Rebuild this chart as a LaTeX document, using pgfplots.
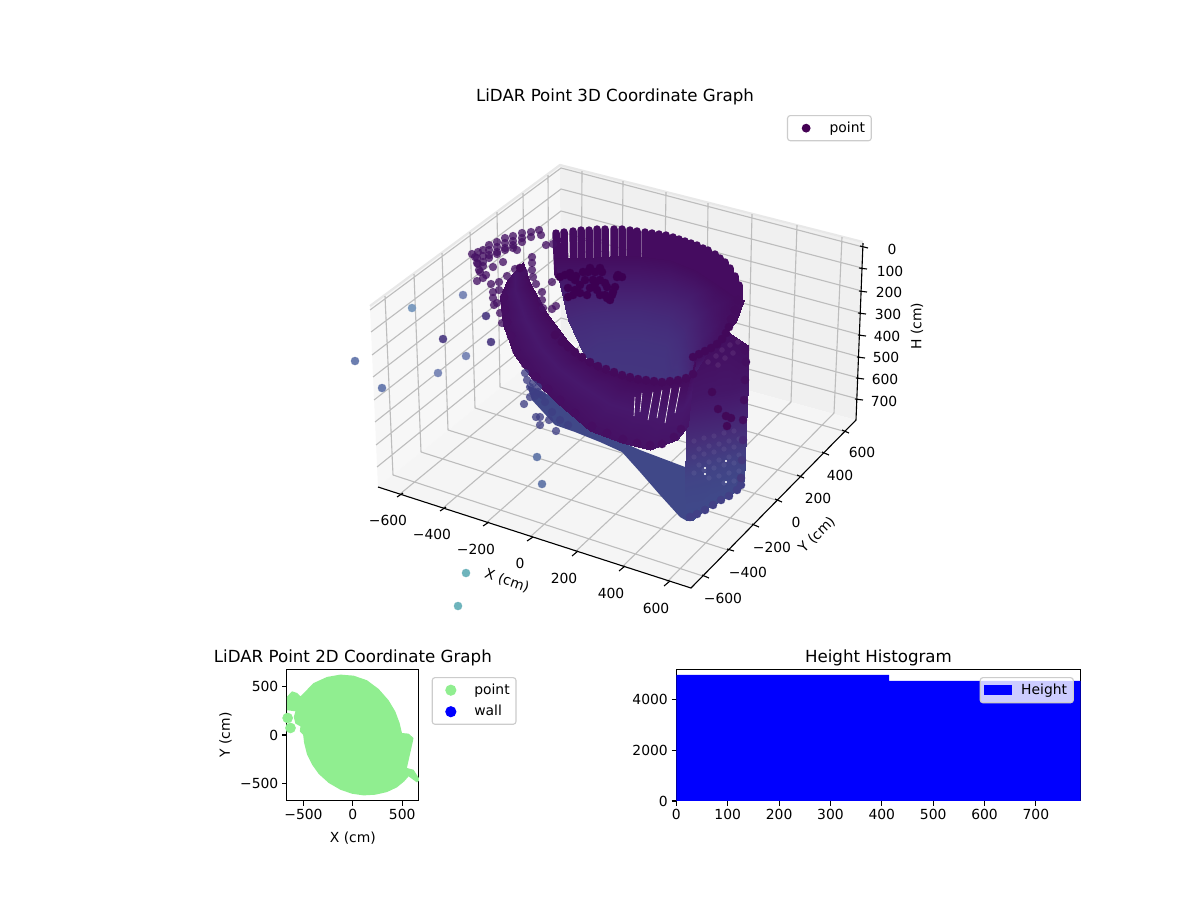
\documentclass[border=0pt]{standalone}
\usepackage{fontspec}
\setmainfont{DejaVu Sans}
\usepackage{pgfplots}
\pgfplotsset{compat=1.18}
\newcommand{\ft}{\fontsize{10bp}{12bp}\selectfont}
\newcommand{\fT}{\fontsize{12bp}{14.4bp}\selectfont}
\definecolor{gridc}{HTML}{BDBDBD}
\definecolor{legc}{HTML}{CCCCCC}
\definecolor{lgreen}{RGB}{144,238,144}
\definecolor{vdark}{RGB}{68,1,84}
\pgfplotsset{
  pts/.style={only marks, mark=*, mark size=3bp, forget plot, color={#1},
     mark options={solid, draw={#1}, fill={#1}, line width=0.05bp}},
  ptsa/.style={only marks, mark=*, mark size=3bp, forget plot, color={#1},
     mark options={solid, draw={#1}, fill={#1}, line width=0.05bp, fill opacity=0.78, draw opacity=0}},
  fillp/.style={draw=none, fill={#1}, forget plot},
  lin/.style={color={#1}, forget plot, unbounded coords=jump, mark=none},
  legmark/.style={legend image code/.code={\path (0bp,0bp) (20bp,0bp); \draw[##1] plot coordinates {(10bp,0bp)};}},
  legbox/.style={legend cell align=left,
     legend style={font=\ft, draw=legc, rounded corners=2bp, line width=0.8bp,
       inner xsep=3bp, inner ysep=3bp, nodes={inner sep=1.5bp},
       /tikz/row sep=3.4bp, /tikz/every odd column/.append style={column sep=5bp}}},
  twod/.style={scale only axis, tick align=outside, major tick length=3.5bp,
     tick style={black, line width=0.8bp}, axis line style={line width=0.7bp},
     xtick pos=bottom, ytick pos=left,
     tick label style={font=\ft}, label style={font=\ft},
     title style={font=\fT, yshift=-7bp},
     every tick label/.append style={inner sep=2.5bp},
     xlabel style={yshift=-2.5bp}, ylabel style={yshift=0bp}, legbox},
}
\begin{document}
\begin{tikzpicture}[x=1bp,y=1bp]
\useasboundingbox (0,0) rectangle (864bp,648bp);
\fill[white] (0,0) rectangle (864bp,648bp);
\begin{axis}[at={(0,0)}, anchor=south west, scale only axis, width=864bp, height=648bp,
  xmin=0, xmax=1200, ymin=0, ymax=900, y dir=reverse, axis lines=none, clip=false,
  legbox, legmark,
  legend style={at={(0.6558,0.8722)}, anchor=north west}]
% panes
\addplot[fillp={black!3}] coordinates {(370,307)(560,166)(561,339)(378,487)} --cycle;
\addplot[fillp={black!6}] coordinates {(560,166)(863,243)(856,420)(561,339)} --cycle;
\addplot[fillp={black!4}] coordinates {(378,487)(691,588)(856,420)(561,339)} --cycle;
\addplot[lin={black!9}, line width=1.6bp] coordinates {(370,306)(560,165)(863,242)};
% grid
\addplot[lin=gridc, line width=0.8bp] coordinates {
(385,296)(393,475)(nan,nan)(414,274)(421,452)(nan,nan)(442,253)(448,430)(nan,nan)
(470,232)(475,408)(nan,nan)(497,212)(500,387)(nan,nan)(523,193)(525,367)(nan,nan)(548,175)(549,348)(nan,nan)
(582,171)(581,345)(nan,nan)(623,181)(621,356)(nan,nan)(666,192)(663,367)(nan,nan)(708,203)(706,379)(nan,nan)
(752,214)(748,390)(nan,nan)(797,225)(791,402)(nan,nan)(842,237)(834,413)(nan,nan)
(400,494)(581,345)(nan,nan)(443,508)(621,356)(nan,nan)(486,523)(663,367)(nan,nan)(530,537)(706,379)(nan,nan)
(575,552)(748,390)(nan,nan)(622,567)(791,402)(nan,nan)(667,582)(834,413)(nan,nan)
(393,475)(703,576)(nan,nan)(421,452)(728,550)(nan,nan)(448,430)(753,525)(nan,nan)(475,408)(776,500)(nan,nan)
(500,387)(798,476)(nan,nan)(525,367)(823,453)(nan,nan)(549,348)(843,431)(nan,nan)
(370,310)(561,168)(863,247)(nan,nan)(371,332)(561,189)(862,268)(nan,nan)(372,355)(561,211)(862,291)(nan,nan)
(373,377)(561,232)(861,313)(nan,nan)(374,400)(561,254)(861,335)(nan,nan)(375,422)(561,275)(860,357)(nan,nan)
(376,445)(561,297)(859,378)(nan,nan)(377,467)(561,318)(858,399)};
% axis lines and ticks
\addplot[lin=black, line width=0.8bp] coordinates {(378,487)(691,588)(856,420)(863,243)};
\addplot[lin=black, line width=0.8bp] coordinates {
(397,497)(403,493)(nan,nan)(440,511)(446,507)(nan,nan)(483,526)(489,522)(nan,nan)(527,541)(533,537)(nan,nan)
(572,556)(578,551)(nan,nan)(619,571)(625,566)(nan,nan)(664,586)(670,581)(nan,nan)
(702,575)(709,578)(nan,nan)(727,549)(734,551)(nan,nan)(752,524)(759,527)(nan,nan)(775,499)(782,502)(nan,nan)
(797,475)(804,478)(nan,nan)(822,452)(829,455)(nan,nan)(842,430)(849,433)(nan,nan)
(860,246)(868,248)(nan,nan)(859,268)(867,269)(nan,nan)(859,291)(867,292)(nan,nan)(858,313)(866,314)(nan,nan)
(858,335)(866,336)(nan,nan)(857,357)(865,358)(nan,nan)(856,378)(864,379)(nan,nan)(855,399)(863,400)};
% outliers, far
\addplot[pts={rgb,255:red,108;green,126;blue,176}] coordinates {(355,361)(382,388)};
\addplot[pts={rgb,255:red,125;green,156;blue,192}] coordinates {(412,308)};
\addplot[pts={rgb,255:red,125;green,138;blue,184}] coordinates {(463,295)(466,356)(438,373)};
\addplot[pts={rgb,255:red,88;green,72;blue,138}] coordinates {(443,339)(491,342)(486,316)};
\addplot[pts={rgb,255:red,105;green,125;blue,172}] coordinates {(537,457)(542,484)};
\addplot[pts={rgb,255:red,110;green,180;blue,188}] coordinates {(466,573)(458,606)};
% ring of points behind the crescent
\addplot[ptsa={rgb,255:red,70;green,18;blue,100}] coordinates {
(539,230)(541,235)(531,232)(531,237)(522,233)(522,238)(522,242)(513,236)(513,241)(513,245)(513,248)
(505,238)(505,243)(505,248)(505,250)(497,242)(497,247)(497,252)(497,254)(489,245)(489,250)(489,255)(489,258)
(483,250)(483,256)(483,262)(483,266)(478,252)(477,258)(478,264)(479,270)(472,254)(475,257)(477,263)(480,272)
(483,278)(477,281)(486,275)(493,267)(503,262)(517,250)(546,245)(553,244)(491,284)(552,282)
(532,257)(532,263)(532,270)(533,277)(536,284)(515,269)(507,276)(499,282)(499,290)(524,272)
(493,292)(493,298)(494,305)(500,313)(502,323)(542,292)(542,300)(543,308)(552,309)(556,306)(497,303)};
\addplot[ptsa={rgb,255:red,62;green,62;blue,132}] coordinates {
(525,373)(527,380)(530,387)(533,383)(538,387)(533,391)(538,392)(535,396)(542,395)(524,404)(536,417)(540,417)(540,425)(556,431)(530,397)(545,402)(552,412)(560,420)(568,425)(549,420)};
% ramp
\addplot[fillp={rgb,255:red,64;green,72;blue,136}] coordinates {(527,385)(532,400)(555,425)(575,432)(600,442)(622,452)(640,472)(660,495)(680,517)(687,521)(693,520)(693,470)(685,467)(640,450)(622,442)(560,400)} --cycle;
% right block
\addplot[patch, patch type=rectangle, mesh input=lattice, mesh/rows=5, mesh/cols=5, shader=interp, forget plot, point meta=explicit, point meta min=0, point meta max=1,
  colormap={blk}{rgb255=(68,14,96) rgb255=(70,28,110) rgb255=(70,48,122) rgb255=(66,64,132) rgb255=(63,74,138)}] coordinates {
(688,360)[0] (700,352)[0] (715,345)[0] (728,332)[0] (748,345)[0]
(687,400)[.15] (700,395)[.15] (715,392)[.15] (730,390)[.15] (748,385)[.15]
(686,440)[.45] (700,437)[.45] (715,434)[.45] (730,431)[.45] (746,428)[.45]
(685,480)[.85] (700,476)[.85] (715,472)[.85] (730,468)[.85] (745,465)[.85]
(686,520)[1] (693,520)[1] (705,510)[1] (725,498)[1] (743,487)[1]};
\addplot[only marks, mark=*, mark size=1.9bp, forget plot, mark options={solid, draw=white, draw opacity=0, fill=white, fill opacity=0.06}] coordinates {
(694,441)(704,438)(714,436)(724,433)(734,431)(699,449)(709,446)(719,444)(729,441)(739,439)
(694,457)(704,454)(714,452)(724,449)(734,447)(699,465)(709,462)(719,460)(729,457)(739,455)
(694,473)(704,470)(714,468)(724,465)(734,463)(709,478)(719,476)(729,473)(739,471)(724,483)(734,481)};
\addplot[pts={rgb,255:red,66;green,64;blue,134}] coordinates {(690,517)(697,514)(705,510)(713,505)(721,500)(729,496)(737,490)(741,485)};
\addplot[pts={rgb,255:red,70;green,40;blue,118}] coordinates {(743,440)};
\addplot[pts={rgb,255:red,68;green,56;blue,126}] coordinates {(742,460)(741,478)};
\addplot[only marks, mark=*, mark size=0.5bp, forget plot, mark options={solid, draw=white, fill=white}] coordinates {(705,468)(705,474)(726,461)(726,482)};
\addplot[pts={rgb,255:red,68;green,14;blue,96}] coordinates {(745,350)(746,362)(745,380)(744,400)(743,420)};
\addplot[only marks, mark=*, mark size=2bp, forget plot, mark options={solid, draw=white, draw opacity=0, fill=white, fill opacity=0.07}] coordinates {(722,350)(730,345)(738,342)(716,356)(725,358)(733,353)(708,362)(718,365)};
% bowl: columns then a smooth surface
\addplot[lin={rgb,255:red,69;green,12;blue,96}, line width=5.4bp, line cap=round] coordinates {
(556,233)(558,275)(nan,nan)(564,232)(565,275)(nan,nan)(573,231)(574,275)(nan,nan)(581,230)(582,275)(nan,nan)(589,230)(590,275)(nan,nan)
(597,229)(598,275)(nan,nan)(605,229)(606,275)(nan,nan)(614,229)(614,275)(nan,nan)(622,229)(622,275)(nan,nan)(630,230)(630,275)(nan,nan)
(637,231)(637,275)(nan,nan)(645,232)(645,275)(nan,nan)(652,233)(652,275)(nan,nan)(659,234)(659,275)(nan,nan)(666,235)(666,275)(nan,nan)
(673,237)(673,275)(nan,nan)(679,239)(679,275)(nan,nan)(685,241)(685,275)(nan,nan)(691,243)(691,280)(nan,nan)(697,245)(697,285)(nan,nan)
(703,248)(703,285)(nan,nan)(708,250)(708,290)(nan,nan)(715,254)(715,295)(nan,nan)(720,258)(720,300)(nan,nan)(725,262)(725,300)(nan,nan)
(730,268)(730,305)(nan,nan)(735,276)(735,305)(nan,nan)(739,285)(739,305)};
\addplot[patch, patch type=rectangle, mesh input=lattice, mesh/rows=5, mesh/cols=9, shader=interp, forget plot, point meta=explicit, point meta min=0, point meta max=1,
  colormap={bwl}{rgb255=(68,12,94) rgb255=(69,24,106) rgb255=(70,36,116) rgb255=(69,46,124) rgb255=(68,54,128)}] coordinates {
(555,258)[0] (580,258)[0] (610,256)[0] (640,256)[0] (670,260)[0] (695,270)[0] (718,285)[0] (735,297)[0] (744,300)[0]
(560,285)[.3] (582,283)[.3] (610,282)[.3] (640,282)[.3] (670,286)[.3] (692,295)[.3] (710,308)[.2] (722,320)[.1] (736,322)[0]
(568,320)[.65] (590,314)[.65] (612,312)[.65] (640,312)[.65] (668,318)[.65] (685,327)[.6] (700,338)[.4] (710,346)[.2] (722,336)[0]
(584,355)[.9] (600,345)[.9] (620,342)[.9] (640,342)[.9] (665,348)[.9] (678,356)[.8] (688,364)[.6] (695,358)[.3] (710,348)[0]
(600,372)[1] (612,380)[1] (625,385)[1] (640,388)[1] (660,390)[1] (675,388)[1] (685,384)[.8] (690,380)[.5] (695,358)[0]};
% dark rows on the block's upper edge
\addplot[pts={rgb,255:red,66;green,8;blue,90}] coordinates {(693,357)(699,354)(705,351)(711,348)(717,344)(722,339)(726,333)(729,327)};
\addplot[pts={rgb,255:red,68;green,12;blue,94}] coordinates {(731,319)(735,310)(738,300)};
% dark cluster over the bowl
\addplot[pts={rgb,255:red,60;green,0;blue,82}] coordinates {
(560,277)(570,273)(571,277)(575,280)(583,272)(590,268)(600,268)(602,272)(593,280)(580,285)(568,288)(568,297)(580,293)(587,295)(597,290)(607,287)(615,287)(617,277)(622,277)(618,275)(605,295)(610,300)(607,298)(613,292)
(576,276)(565,275)(588,272)(595,272)(600,280)(605,283)(590,288)(575,290)(585,280)(612,295)(600,295)(595,284)(573,295)};
% crescent
\addplot[patch, patch type=rectangle, mesh input=lattice, mesh/rows=3, mesh/cols=11, shader=interp, forget plot, point meta=explicit, point meta min=0, point meta max=1,
  colormap={crs}{rgb255=(68,10,92) rgb255=(71,24,108)}] coordinates {
(523,262)[0] (530,283)[0] (547,313)[0] (567,340)[0] (583,357)[0] (607,370)[0] (630,377)[0] (655,381)[0] (675,380)[0] (690,376)[0] (695,362)[0]
(515,271)[.8] (515,290)[.9] (525,319)[1] (540,347)[1] (558,368)[1] (582,386)[1] (610,404)[1] (638,412)[1] (662,415)[1] (683,408)[1] (691,394)[1]
(507,280)[.2] (500,297)[.2] (503,325)[.2] (514,355)[.2] (533,380)[.3] (557,403)[.3] (590,431)[.4] (622,443)[.5] (650,450)[.6] (677,440)[.7] (688,426)[.7]};
\addplot[pts={rgb,255:red,70;green,14;blue,98}] coordinates {(504,297)(505,310)(507,322)(511,336)(516,350)(525,364)(536,377)(548,389)(560,400)(575,413)(592,426)(607,433)(623,439)(637,443)(650,445)(662,444)(674,437)(681,429)};
\addplot[pts={rgb,255:red,68;green,10;blue,92}] coordinates {(555,335)(562,342)(568,347)(575,352)(582,357)(590,362)(598,366)(606,369)(614,372)(622,375)(630,377)(638,379)(646,380)(654,381)(662,382)(670,381)(678,380)(686,378)(693,374)(520,268)};
\addplot[lin=white, line width=0.45bp] coordinates {(635,397)(634,416)(nan,nan)(642,393)(640,412)(nan,nan)(653,392)(648,420)(nan,nan)(662,390)(657,418)(nan,nan)(671,388)(665,423)(nan,nan)(680,387)(675,413)};
% points in front of the block
\addplot[pts={rgb,255:red,66;green,8;blue,88}] coordinates {(712,392)(718,409)(726,416)(731,418)(727,426)};
% legend
\addlegendimage{only marks, mark=*, mark size=2.75bp, mark options={solid, draw=vdark, fill=vdark}}
\addlegendentry{point}
% texts
\node[font=\fT] at (axis cs:615,96.5) {LiDAR Point 3D Coordinate Graph};
\node[font=\ft] at (axis cs:388,520) {−600};
\node[font=\ft] at (axis cs:432,534) {−400};
\node[font=\ft] at (axis cs:476,549) {−200};
\node[font=\ft] at (axis cs:520,563) {0};
\node[font=\ft] at (axis cs:564,578) {200};
\node[font=\ft] at (axis cs:611,593) {400};
\node[font=\ft] at (axis cs:656,608) {600};
\node[font=\ft] at (axis cs:723,598) {−600};
\node[font=\ft] at (axis cs:748,572) {−400};
\node[font=\ft] at (axis cs:772,547) {−200};
\node[font=\ft] at (axis cs:796,522) {0};
\node[font=\ft] at (axis cs:818,498) {200};
\node[font=\ft] at (axis cs:840,475) {400};
\node[font=\ft] at (axis cs:862,452) {600};
\node[font=\ft] at (axis cs:892,249) {0};
\node[font=\ft] at (axis cs:890,271) {100};
\node[font=\ft] at (axis cs:889,292) {200};
\node[font=\ft] at (axis cs:888,314) {300};
\node[font=\ft] at (axis cs:887,336) {400};
\node[font=\ft] at (axis cs:886,357) {500};
\node[font=\ft] at (axis cs:885,379) {600};
\node[font=\ft] at (axis cs:884,401) {700};
\node[font=\ft, rotate=-19] at (axis cs:507,581) {X (cm)};
\node[font=\ft, rotate=45] at (axis cs:817,535) {Y (cm)};
\node[font=\ft, rotate=90] at (axis cs:917,326) {H (cm)};
\end{axis}
% 2D coordinate panel
\begin{axis}[twod, legmark, at={(206.6bp,71.3bp)}, anchor=south west, width=94.9bp, height=95bp,
  xmin=-667, xmax=667, ymin=-675, ymax=675,
  xtick={-500,0,500}, xticklabels={−500,0,500},
  ytick={-500,0,500}, yticklabels={−500,0,500},
  xlabel={X (cm)}, ylabel={Y (cm)}, title={LiDAR Point 2D Coordinate Graph},
  legend style={at={(1.098,0.939)}, anchor=north west}]
\addplot[fillp=lgreen] coordinates {
(-126,618)(8,607)(143,560)(261,471)(362,355)(429,242)(473,123)(497,20)(564,14)(614,-31)(604,-82)(581,-184)(547,-338)
(614,-355)(680,-460)(648,-485)(564,-423)(520,-474)(446,-536)(345,-584)(227,-611)(109,-618)(-8,-601)(-126,-560)
(-244,-491)(-345,-399)(-412,-304)(-463,-201)(-493,-82)(-503,3)(-537,38)(-530,89)(-581,116)(-598,184)(-581,242)
(-658,253)(-680,253)(-680,379)(-615,447)(-564,430)(-530,396)(-396,532)(-261,594)} --cycle;
\addplot[only marks, mark=*, mark size=3.6bp, forget plot, mark options={solid, draw=lgreen, fill=lgreen}] coordinates {(-631,72)(-660,174)};
\addlegendimage{only marks, mark=*, mark size=3.6bp, mark options={solid, draw=lgreen, fill=lgreen}}
\addlegendentry{point}
\addlegendimage{only marks, mark=*, mark size=3.6bp, mark options={solid, draw=blue, fill=blue}}
\addlegendentry{wall}
\end{axis}
% histogram
\begin{axis}[twod, at={(487bp,71.3bp)}, anchor=south west, width=291bp, height=95bp,
  xmin=0, xmax=787, ymin=0, ymax=5190,
  xtick={0,100,...,700}, ytick={0,2000,4000},
  title={Height Histogram},
  /pgf/number format/assume math mode=true,
  /pgf/number format/1000 sep={},
  scaled ticks=false,
  legend style={at={(0.9835,0.939)}, anchor=north east, fill=white, fill opacity=0.8, text opacity=1},
  legend image code/.code={\fill[blue, fill opacity=1, sharp corners] (0bp,-3.5bp) rectangle (20bp,3.5bp);}]
\addplot[ybar interval, fill=blue, draw=none] coordinates {(0,4955)(414,4719)(787,4719)};
\addlegendentry{Height}
\end{axis}
\end{tikzpicture}
\end{document}
